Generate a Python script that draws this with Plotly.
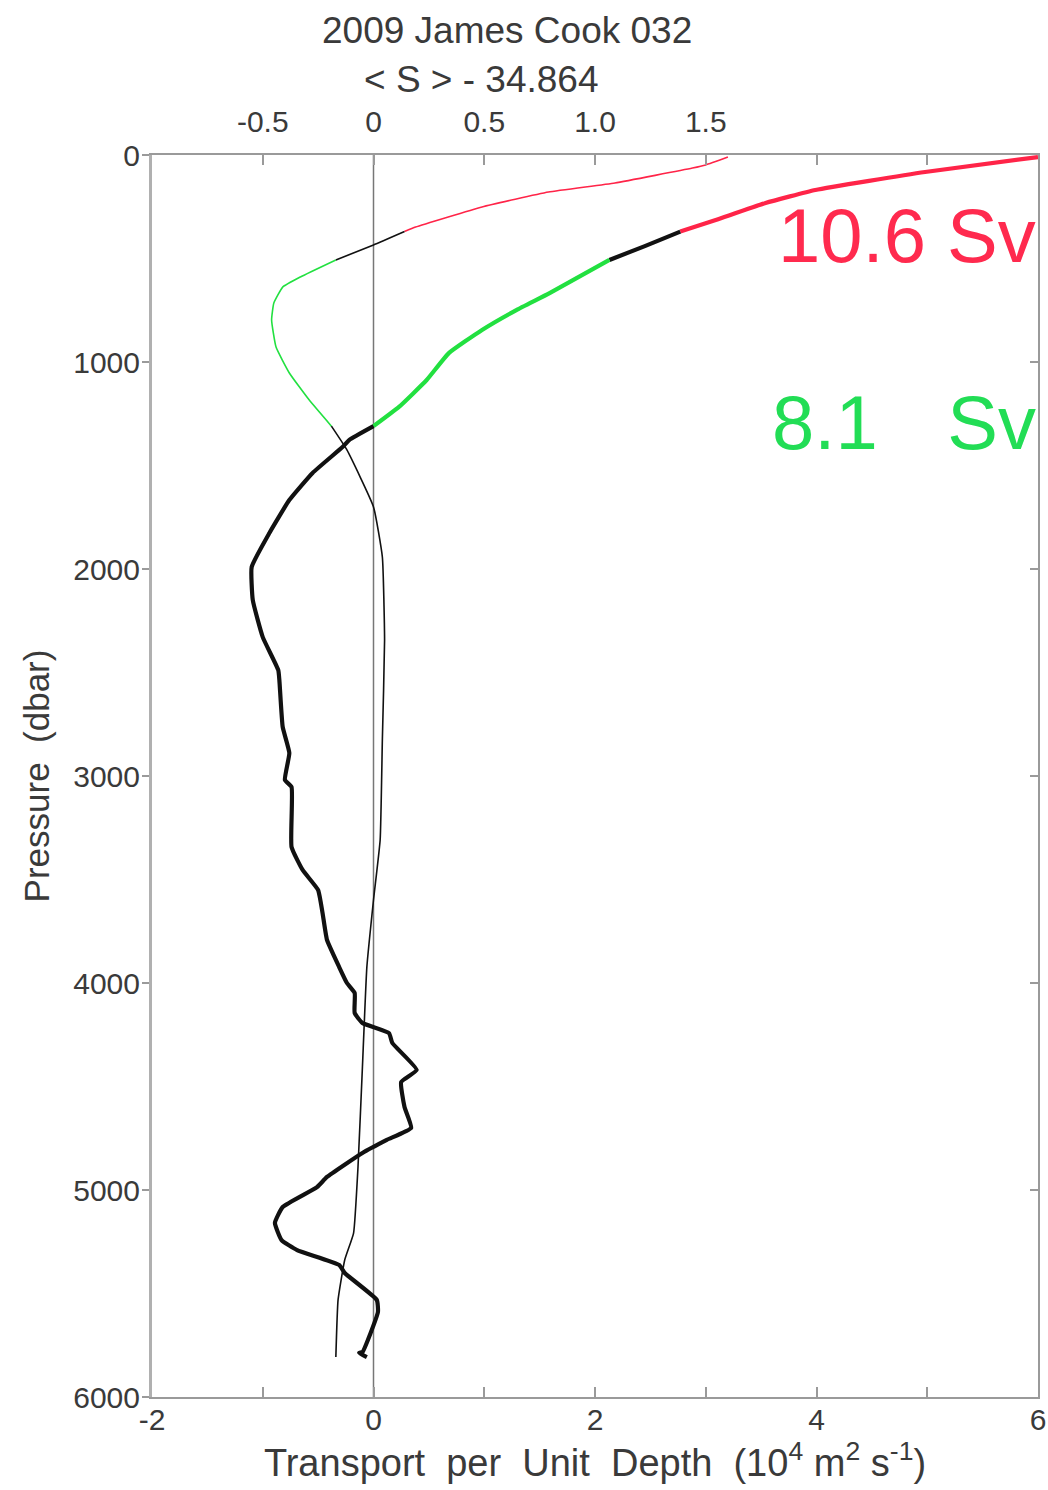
import numpy as np
import plotly.graph_objects as go

# Transport per unit depth (10^4 m^2 s^-1) against pressure (dbar)
transport_p = [10, 82, 169, 232, 314, 370, 440, 507, 667, 749, 845, 957, 1087, 1217,
               1310, 1377, 1411, 1536, 1667, 1826, 1990, 2150, 2329, 2488, 2536, 2763,
               2889, 3019, 3053, 3343, 3454, 3551, 3662, 3792, 3923, 4000, 4048, 4145,
               4193, 4242, 4290, 4420, 4478, 4599, 4700, 4758, 4821, 4937, 4986, 5082,
               5159, 5242, 5290, 5362, 5401, 5531, 5589, 5783, 5787, 5807]
transport_x = [6.00, 4.98, 3.99, 3.54, 3.09, 2.77, 2.45, 2.13, 1.59, 1.29, 0.98, 0.68,
               0.48, 0.23, 0.00, -0.22, -0.28, -0.55, -0.76, -0.94, -1.10, -1.09, -1.00,
               -0.86, -0.85, -0.82, -0.76, -0.80, -0.74, -0.74, -0.64, -0.50, -0.46,
               -0.42, -0.31, -0.24, -0.17, -0.17, -0.10, 0.14, 0.17, 0.39, 0.25, 0.28,
               0.34, 0.12, -0.10, -0.42, -0.51, -0.82, -0.89, -0.83, -0.69, -0.31,
               -0.26, 0.03, 0.04, -0.10, -0.13, -0.06]

# Mean salinity anomaly <S> - 34.864 against pressure (dbar)
salinity_p = [10, 48, 63, 135, 179, 251, 348, 370, 435, 507, 589, 638, 715, 797, 928,
              1053, 1184, 1310, 1425, 1700, 1942, 2343, 2826, 3309, 3599, 3923, 4406,
              4889, 5208, 5338, 5531, 5807]
salinity_x = [1.60, 1.50, 1.44, 1.09, 0.79, 0.49, 0.19, 0.14, 0.00, -0.17, -0.33,
              -0.41, -0.45, -0.46, -0.44, -0.38, -0.29, -0.19, -0.12, 0.00, 0.04, 0.05,
              0.04, 0.03, 0.00, -0.03, -0.05, -0.07, -0.09, -0.13, -0.16, -0.17]

# Layer limits (dbar) and the colour of each layer
layer_edges = [0, 370, 507, 1310, 6000]
layer_colors = ["#ff2448", "#111111", "#22e040", "#111111"]

# Integrated transports of the upper two layers
layer_labels = ["10.6 Sv", "8.1\u00a0\u00a0\u00a0\u200aSv"]
label_colors = ["#ff2a4e", "#22dd55"]
label_p = [388, 1290]

x_ticks = list(range(-2, 7))
x_ticktext = ["-2", "", "0", "", "2", "", "4", "", "6"]
top_ticks = [-0.5, 0, 0.5, 1.0, 1.5, 2.0, 2.5]
top_ticktext = ["-0.5", "0", "0.5", "1.0", "1.5", "", ""]
p_ticks = [0, 1000, 2000, 3000, 4000, 5000, 6000]

FONT = "Liberation Sans, Arial, sans-serif"
TXT = "#3a3a3a"
AXC = "#9a9a9a"

fig = go.Figure()


def add_layered(p, x, width, xaxis, yaxis):
    p = np.asarray(p)
    x = np.asarray(x)
    for lo, hi, col in zip(layer_edges[:-1], layer_edges[1:], layer_colors):
        sel = (p >= lo) & (p <= hi)
        fig.add_trace(go.Scatter(
            x=x[sel], y=p[sel], mode="lines",
            line=dict(color=col, width=width, shape="spline", smoothing=0.4),
            xaxis=xaxis, yaxis=yaxis, showlegend=False, hoverinfo="skip"))


add_layered(salinity_p, salinity_x, 1.6, "x2", "y2")
add_layered(transport_p, transport_x, 4.2, "x", "y")

fig.add_shape(type="line", xref="x", yref="paper", x0=0, x1=0, y0=0, y1=1,
              line=dict(color="#777777", width=1.5), layer="below")

for txt, col, py in zip(layer_labels, label_colors, label_p):
    fig.add_annotation(x=6, y=py, xref="x", yref="y", text=txt, showarrow=False,
                       xanchor="right", yanchor="middle",
                       font=dict(family=FONT, size=76, color=col))

fig.add_annotation(x=0.4007, y=1.1006, xref="paper", yref="paper",
                   text="2009 James Cook 032", showarrow=False,
                   xanchor="center", yanchor="middle",
                   font=dict(family=FONT, size=37, color=TXT))
fig.add_annotation(x=0.372, y=1.0604, xref="paper", yref="paper",
                   text="< S > - 34.864", showarrow=False,
                   xanchor="center", yanchor="middle",
                   font=dict(family=FONT, size=37, color=TXT))

fig.update_layout(
    width=1048, height=1490,
    margin=dict(l=152, r=10, t=155, b=93),
    paper_bgcolor="white", plot_bgcolor="white",
    font=dict(family=FONT, color=TXT),
    xaxis=dict(range=[-2, 6], tickvals=x_ticks, ticktext=x_ticktext,
               ticks="inside", ticklen=10, tickwidth=1.5, tickcolor=AXC,
               showline=True, linecolor=AXC, linewidth=2, showgrid=False,
               zeroline=False, tickfont=dict(size=30, color=TXT),
               automargin=False, ticklabelstandoff=-5,
               title=dict(text="Transport  per  Unit  Depth  (10<sup>4</sup> m<sup>2</sup> s<sup>-1</sup>)",
                          font=dict(size=38, color=TXT), standoff=6)),
    xaxis2=dict(range=[-1, 3], overlaying="x", side="top", anchor="y2",
                tickvals=top_ticks, ticktext=top_ticktext,
                ticks="inside", ticklen=10, tickwidth=1.5, tickcolor=AXC,
                showline=True, linecolor=AXC, linewidth=2, showgrid=False,
                zeroline=False, tickfont=dict(size=30, color=TXT),
                automargin=False, ticklabelstandoff=9),
    yaxis=dict(range=[6000, 0], tickvals=p_ticks, ticks="outside", ticklen=7,
               tickwidth=1.5, tickcolor=AXC, showline=True, linecolor="#b0b0b0",
               linewidth=3, showgrid=False, zeroline=False,
               tickfont=dict(size=30, color=TXT), automargin=False,
               ticklabelstandoff=-4,
               title=dict(text="Pressure  (dbar)", font=dict(size=35, color=TXT),
                          standoff=14)),
    yaxis2=dict(range=[6000, 0], overlaying="y", side="right", anchor="x2",
                tickvals=p_ticks, ticks="inside", ticklen=8, tickwidth=1.5,
                tickcolor=AXC, showticklabels=False, showline=True,
                linecolor=AXC, linewidth=2, showgrid=False, zeroline=False,
                automargin=False),
)

fig.write_html("out.html")
